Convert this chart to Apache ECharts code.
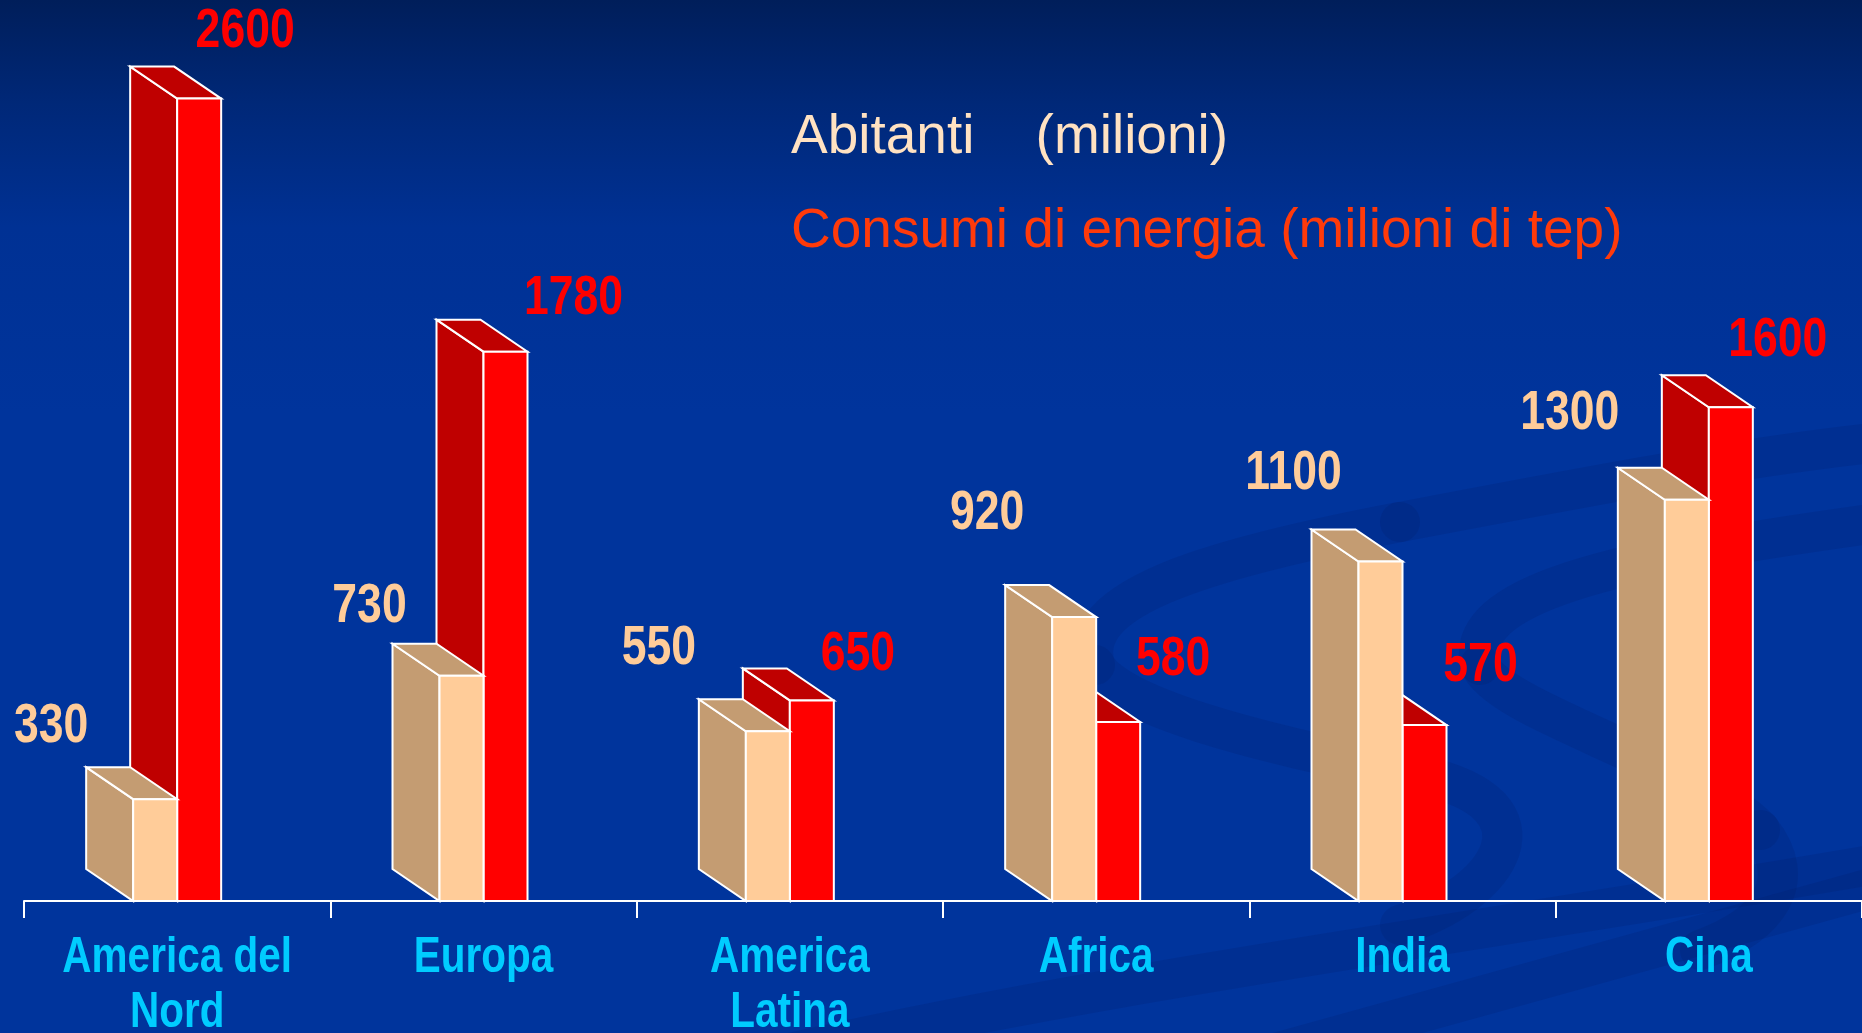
<!DOCTYPE html>
<html>
<head>
<meta charset="utf-8">
<title>Abitanti e consumi di energia</title>
<script src="https://cdn.jsdelivr.net/npm/echarts@6/dist/echarts.min.js"></script>
<style>
  html, body { margin: 0; padding: 0; width: 100%; height: 100%; overflow: hidden; background: #00349c; }
  #chart { width: 1862px; height: 1033px; }
</style>
</head>
<body>
<div id="chart"></div>
<script>
// Regions of the world
const categories = ['America del Nord', 'Europa', 'America Latina', 'Africa', 'India', 'Cina'];
// Inhabitants, millions
const abitanti = [330, 730, 550, 920, 1100, 1300];
// Energy consumption, millions of toe
const consumi = [2600, 1780, 650, 580, 570, 1600];

const seriesNames = ['Abitanti    (milioni)', 'Consumi di energia (milioni di tep)'];

// Value-label placement relative to the bar's front top edge and the category centre
const popLabelDx = [-126, -114, -131, -109, -109, -139];
const popLabelDy = [-72, -69, -82, -103, -88, -86];
const redLabelDx = [68, 90, 68, 77, 78, 69];
const redLabelDy = [-67, -53, -46, -62, -59, -66];

// Pseudo-3D box geometry
const BAR_W = 44;   // front face width
const DEPTH_X = 47; // depth offset (towards upper left)
const DEPTH_Y = 32;
const SQUEEZE = 0.81; // horizontal compression giving the bold labels a narrow cut

const BOLD_FONT = "bold 55px 'Liberation Sans', Arial, sans-serif";
const CAT_FONT = "bold 50px 'Liberation Sans', Arial, sans-serif";
const REGULAR = "'Liberation Sans', Arial, sans-serif";

const palettes = [
  { front: '#FFCC99', side: '#C49C72', top: '#C49C72', label: '#FFCC99' },
  { front: '#FF0000', side: '#BF0000', top: '#BF0000', label: '#FF0000' }
];

function makeBox(which) {
  const pal = palettes[which];
  const dxs = which === 0 ? popLabelDx : redLabelDx;
  const dys = which === 0 ? popLabelDy : redLabelDy;
  return function (params, api) {
    const i = api.value(0);
    const v = api.value(1);
    const base = api.coord([i, 0]);
    const top = api.coord([i, v]);
    const cx = base[0];
    const yb = base[1];
    const yt = top[1];
    const x0 = which === 0 ? cx - BAR_W : cx;
    const x1 = x0 + BAR_W;
    const edge = { stroke: '#FFFFFF', lineWidth: 2, lineJoin: 'miter' };
    return {
      type: 'group',
      children: [
        {
          type: 'polygon',
          shape: { points: [[x0 - DEPTH_X, yt - DEPTH_Y], [x0, yt], [x0, yb], [x0 - DEPTH_X, yb - DEPTH_Y]] },
          style: Object.assign({ fill: pal.side }, edge)
        },
        {
          type: 'polygon',
          shape: { points: [[x0 - DEPTH_X, yt - DEPTH_Y], [x1 - DEPTH_X, yt - DEPTH_Y], [x1, yt], [x0, yt]] },
          style: Object.assign({ fill: pal.top }, edge)
        },
        {
          type: 'rect',
          shape: { x: x0, y: yt, width: BAR_W, height: yb - yt },
          style: Object.assign({ fill: pal.front }, edge)
        },
        {
          type: 'text',
          x: cx + dxs[i],
          y: yt + dys[i],
          scaleX: SQUEEZE,
          style: {
            text: String(v),
            fill: pal.label,
            font: BOLD_FONT,
            align: 'center',
            verticalAlign: 'middle'
          }
        }
      ]
    };
  };
}

// Category names under the axis, wrapped at the last space
function renderCategory(params, api) {
  const i = api.value(0);
  const p = api.coord([i, 0]);
  const name = categories[i];
  const k = name.lastIndexOf(' ');
  const text = k > 0 ? name.slice(0, k) + '\n' + name.slice(k + 1) : name;
  return {
    type: 'text',
    x: p[0],
    y: p[1] + 30,
    scaleX: SQUEEZE,
    style: {
      text: text,
      fill: '#00CCFF',
      font: CAT_FONT,
      lineHeight: 55,
      align: 'center',
      verticalAlign: 'top'
    }
  };
}

// Decorative background swirls: cubic segments [x1, y1, cpx1, cpy1, cpx2, cpy2, x2, y2]
const swirlSegments = [
  [1095, 665, 1075, 600, 1200, 560, 1400, 522],
  [1400, 522, 1600, 484, 1750, 455, 1900, 440],
  [1095, 665, 1115, 705, 1250, 742, 1420, 775],
  [1420, 775, 1560, 805, 1500, 895, 1400, 925],
  [1480, 665, 1465, 595, 1600, 560, 1900, 520],
  [1480, 665, 1500, 712, 1690, 760, 1760, 830],
  [1760, 830, 1800, 880, 1770, 925, 1700, 950],
  [760, 1060, 1100, 980, 1500, 930, 1900, 860],
  [1250, 1060, 1500, 990, 1700, 935, 1900, 880]
];
const swirlStyle = { fill: null, stroke: 'rgba(0, 22, 95, 0.16)', lineWidth: 40, lineCap: 'round' };

const chart = echarts.init(document.getElementById('chart'));

chart.setOption({
  animation: false,
  graphic: [
    {
      type: 'rect',
      z: -10,
      silent: true,
      shape: { x: 0, y: 0, width: 1862, height: 1033 },
      style: {
        fill: {
          type: 'linear', x: 0, y: 0, x2: 0, y2: 1,
          colorStops: [
            { offset: 0, color: '#001E5A' },
            { offset: 0.1, color: '#002878' },
            { offset: 0.22, color: '#003194' },
            { offset: 0.4, color: '#00349C' },
            { offset: 1, color: '#00349C' }
          ]
        }
      }
    }
  ].concat(swirlSegments.map(function (s) {
    return {
      type: 'bezierCurve', z: -9, silent: true,
      shape: { x1: s[0], y1: s[1], cpx1: s[2], cpy1: s[3], cpx2: s[4], cpy2: s[5], x2: s[6], y2: s[7] },
      style: swirlStyle
    };
  })),
  title: [
    {
      text: seriesNames[0],
      left: 791, top: 110, padding: 0,
      textStyle: { color: '#FFE2C2', fontSize: 55, fontWeight: 'normal', fontFamily: REGULAR }
    },
    {
      text: seriesNames[1],
      left: 791, top: 204, padding: 0,
      textStyle: { color: '#FF3A0A', fontSize: 55, fontWeight: 'normal', fontFamily: REGULAR }
    }
  ],
  grid: { left: 24, right: 0, top: 6, bottom: 132, containLabel: false, outerBoundsMode: 'none' },
  xAxis: {
    type: 'category',
    data: categories,
    boundaryGap: true,
    axisLine: { lineStyle: { color: '#FFFFFF', width: 2 } },
    axisTick: { show: true, length: 17, interval: 0, lineStyle: { color: '#FFFFFF', width: 2 } },
    axisLabel: { show: false },
    splitLine: { show: false }
  },
  yAxis: { type: 'value', min: 0, max: 2900, show: false },
  series: [
    {
      name: seriesNames[1],
      type: 'custom',
      renderItem: makeBox(1),
      data: consumi.map(function (v, i) { return [i, v]; }),
      encode: { x: 0, y: 1 },
      z: 2
    },
    {
      name: seriesNames[0],
      type: 'custom',
      renderItem: makeBox(0),
      data: abitanti.map(function (v, i) { return [i, v]; }),
      encode: { x: 0, y: 1 },
      z: 3
    },
    {
      name: 'Regioni',
      type: 'custom',
      silent: true,
      renderItem: renderCategory,
      data: categories.map(function (c, i) { return [i, 0]; }),
      encode: { x: 0, y: 1 },
      clip: false,
      z: 4
    }
  ]
});
</script>
</body>
</html>
